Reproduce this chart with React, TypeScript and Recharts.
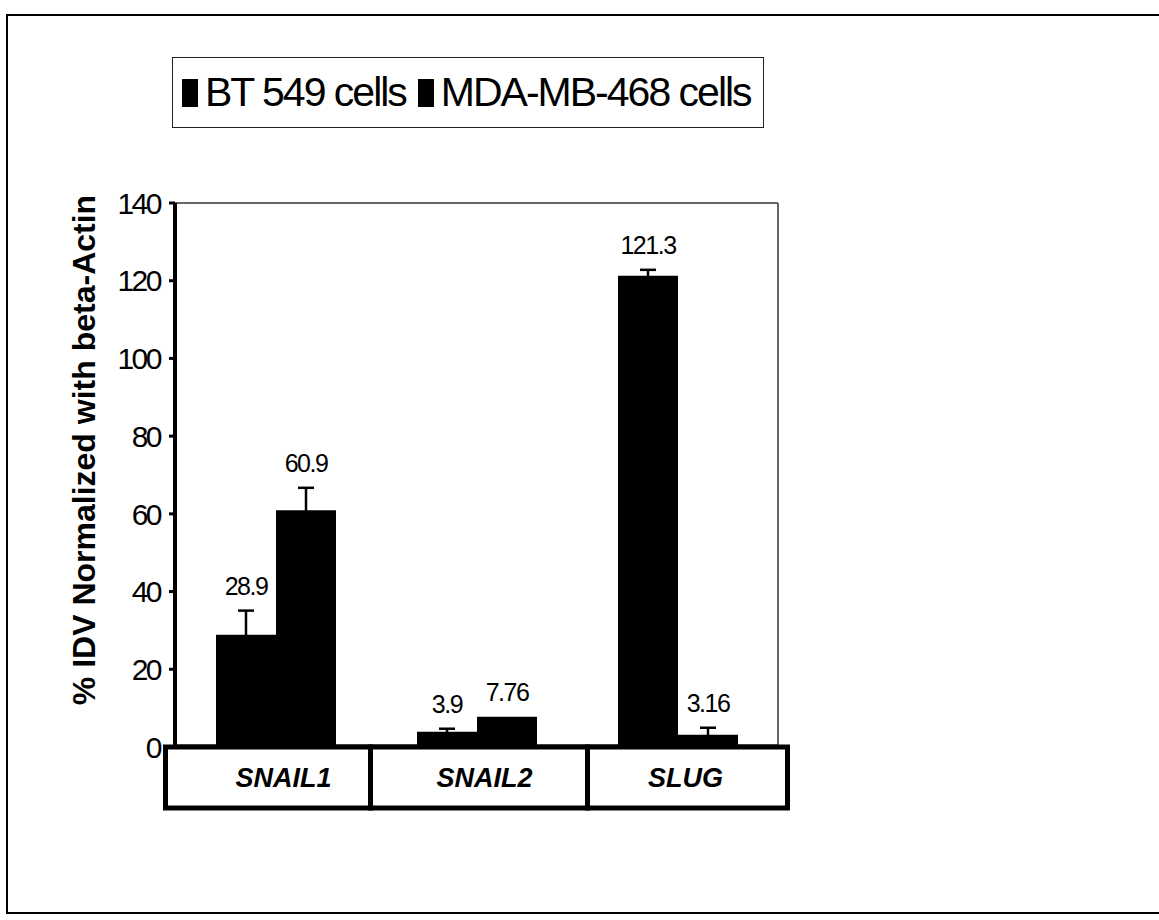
import React from 'react';
import { BarChart, Bar, XAxis, YAxis, ErrorBar, LabelList, Legend } from 'recharts';

const categories = ['SNAIL1', 'SNAIL2', 'SLUG'];
const bt549 = [28.9, 3.9, 121.3];
const bt549Err = [6.2, 0.8, 1.5];
const mda468 = [60.9, 7.76, 3.16];
const mda468Err = [5.8, 0, 1.8];
const yTicks = [0, 20, 40, 60, 80, 100, 120, 140];
const seriesNames = ['BT 549 cells', 'MDA-MB-468 cells'];

const chartData = categories.map((name, i) => ({
  name,
  bt: bt549[i],
  btErr: bt549Err[i],
  mda: mda468[i],
  mdaErr: mda468Err[i],
}));

const FONT = "'Liberation Sans', Arial, sans-serif";

const makeValueLabel = (errs: number[]) => (props: any) => {
  const { x, y, width, height, value, index } = props;
  const perUnit = value ? height / value : 0;
  const top = y - errs[index] * perUnit;
  return (
    <text
      x={x + width / 2}
      y={top - 16}
      textAnchor="middle"
      fontFamily={FONT}
      fontSize={25}
      letterSpacing={-1.5}
      fill="#000"
    >
      {value}
    </text>
  );
};

// box edges below the axis, per category (left offset, right offset from tick centre)
const boxEdges = [
  [-110, 95],
  [-106, 111],
  [-90, 110],
];

const CategoryBox = (props: any) => {
  const { x, y, payload } = props;
  const [l, r] = boxEdges[payload.index];
  return (
    <g>
      <rect x={x + l} y={y} width={r - l} height={61} fill="#fff" stroke="#000" strokeWidth={5} />
      <text
        x={x + 8}
        y={y + 40}
        textAnchor="middle"
        fontFamily={FONT}
        fontSize={27}
        fontWeight="bold"
        fontStyle="italic"
        fill="#000"
      >
        {payload.value}
      </text>
    </g>
  );
};

const LegendBox = () => (
  <div
    style={{
      display: 'flex',
      alignItems: 'center',
      height: '100%',
      paddingLeft: 9,
      fontFamily: FONT,
      fontSize: 41,
      letterSpacing: -2,
      color: '#000',
      lineHeight: 1,
      whiteSpace: 'nowrap',
    }}
  >
    {seriesNames.map((n) => (
      <span key={n} style={{ display: 'flex', alignItems: 'center', marginRight: 12, flexShrink: 0 }}>
        <span style={{ display: 'inline-block', width: 16, height: 28, background: '#000', marginRight: 7 }} />
        {n}
      </span>
    ))}
  </div>
);

const YLabel = () => (
  <text
    x={95}
    y={450}
    transform="rotate(-90 95 450)"
    textAnchor="middle"
    fontFamily={FONT}
    fontSize={32}
    fontWeight="bold"
    fill="#000"
  >
    % IDV Normalized with beta-Actin
  </text>
);

export default function App() {
  return (
    <div style={{ position: 'absolute', left: 0, top: 0, width: 1159, height: 920, background: '#fff' }}>
      <div
        style={{
          position: 'absolute',
          left: 6,
          top: 14,
          width: 1160,
          height: 900,
          borderTop: '2px solid #000',
          borderLeft: '2px solid #000',
          borderBottom: '2px solid #000',
          boxSizing: 'border-box',
        }}
      />
      <BarChart
        width={1159}
        height={920}
        data={chartData}
        margin={{ top: 202, right: 380, bottom: 112, left: 0 }}
        barSize={60}
        barGap={0}
        style={{ position: 'absolute', left: 0, top: 0 }}
      >
        <XAxis
          dataKey="name"
          height={61}
          axisLine={{ stroke: '#000', strokeWidth: 5 }}
          tickLine={false}
          tickSize={0}
          tickMargin={0}
          tick={<CategoryBox />}
          interval={0}
        />
        <XAxis xAxisId="top" orientation="top" dataKey="name" height={1} tick={false} tickLine={false} axisLine={{ stroke: '#333', strokeWidth: 1.5 }} />
        <YAxis
          domain={[0, 140]}
          ticks={yTicks}
          width={175}
          axisLine={{ stroke: '#000', strokeWidth: 4 }}
          tickLine={{ stroke: '#000', strokeWidth: 3 }}
          tickSize={6}
          tickMargin={9}
          tick={{ fontFamily: FONT, fontSize: 30, fill: '#000', letterSpacing: -2.5 }}
          label={<YLabel />}
        />
        <YAxis yAxisId="right" orientation="right" domain={[0, 140]} width={1} tick={false} tickLine={false} axisLine={{ stroke: '#333', strokeWidth: 1.5 }} />
        <Legend
          layout="vertical"
          align="center"
          verticalAlign="middle"
          content={<LegendBox />}
          wrapperStyle={{ position: 'absolute', left: 172, top: 57, width: 592, height: 71, border: '1px solid #222', boxSizing: 'border-box', background: '#fff' }}
        />
        <Bar dataKey="bt" name={seriesNames[0]} fill="#000" isAnimationActive={false}>
          <ErrorBar dataKey="btErr" width={8} stroke="#000" strokeWidth={2.5} />
          <LabelList dataKey="bt" content={makeValueLabel(bt549Err)} />
        </Bar>
        <Bar dataKey="mda" name={seriesNames[1]} fill="#000" isAnimationActive={false}>
          <ErrorBar dataKey="mdaErr" width={8} stroke="#000" strokeWidth={2.5} />
          <LabelList dataKey="mda" content={makeValueLabel(mda468Err)} />
        </Bar>
      </BarChart>
    </div>
  );
}
